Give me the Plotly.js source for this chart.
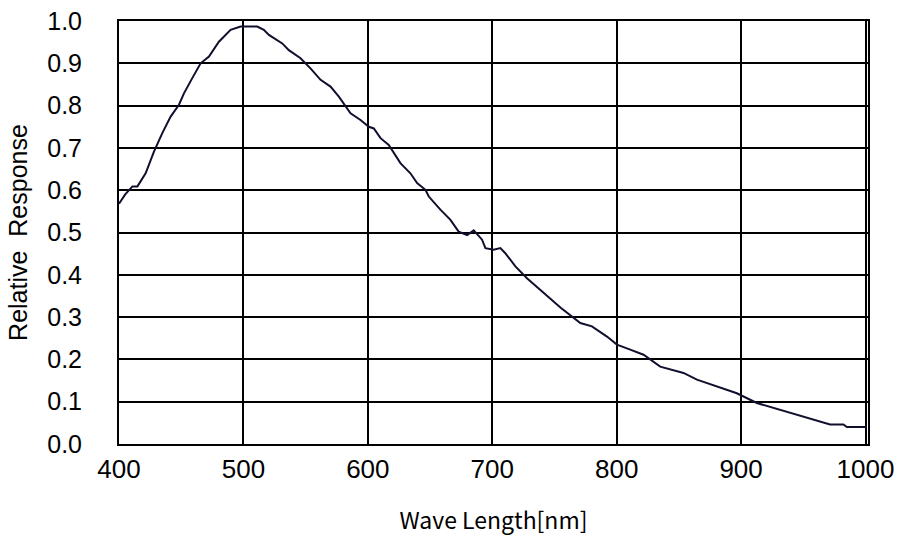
<!DOCTYPE html>
<html>
<head>
<meta charset="utf-8">
<script src="https://cdn.plot.ly/plotly-3.0.1.min.js"></script>
<style>html,body{margin:0;padding:0;background:#fff;}#chart{width:900px;height:544px;}</style>
</head>
<body>
<div id="chart"></div>
<script>
const wavelength = [400, 405, 410.8, 414.8, 421.4, 428.1, 434.8, 441.5, 448.2, 452.2, 458.9, 465.6, 472.3, 480.3, 489.7, 497.7, 511.1, 516.4, 520.5, 531.2, 536.5, 545.9, 553.9, 562.0, 570.0, 576.7, 586.1, 594.1, 600.8, 604.8, 610.2, 616.8, 626.2, 634.2, 639.6, 646.3, 649.0, 658.3, 666.4, 673.0, 679.8, 685.1, 691.8, 694.5, 701.1, 706.5, 710.5, 718.6, 727.9, 740, 755, 770.8, 780.1, 792.2, 800.2, 810.9, 821.6, 835.0, 853.7, 864.5, 880.5, 896.6, 912.6, 931.4, 952.8, 971.5, 982.2, 985.0, 1001];
const response = [0.568, 0.59, 0.609, 0.609, 0.640, 0.691, 0.735, 0.774, 0.802, 0.829, 0.865, 0.900, 0.916, 0.951, 0.979, 0.987, 0.987, 0.979, 0.967, 0.947, 0.931, 0.912, 0.888, 0.861, 0.845, 0.821, 0.782, 0.766, 0.750, 0.746, 0.723, 0.707, 0.664, 0.640, 0.617, 0.601, 0.585, 0.554, 0.530, 0.502, 0.494, 0.505, 0.483, 0.463, 0.459, 0.463, 0.451, 0.420, 0.392, 0.360, 0.322, 0.286, 0.278, 0.254, 0.235, 0.223, 0.211, 0.183, 0.168, 0.152, 0.136, 0.120, 0.097, 0.081, 0.061, 0.046, 0.046, 0.040, 0.040];
const xTicks = [400, 500, 600, 700, 800, 900, 1000];
const yTicks = [0, 0.1, 0.2, 0.3, 0.4, 0.5, 0.6, 0.7, 0.8, 0.9, 1.0];
const yTickText = yTicks.map(v => v.toFixed(1));

Plotly.newPlot('chart', [{
  x: wavelength, y: response, type: 'scatter', mode: 'lines',
  line: {color: '#10102e', width: 2}, hoverinfo: 'skip'
}], {
  width: 900, height: 544,
  margin: {l: 119, r: 32, t: 21, b: 100},
  paper_bgcolor: '#fff', plot_bgcolor: '#fff',
  showlegend: false,
  xaxis: {
    range: [400, 1002], tickmode: 'array', tickvals: xTicks, ticktext: xTicks.map(String),
    showgrid: true, gridcolor: '#000', gridwidth: 2, zeroline: false,
    showline: true, linecolor: '#000', linewidth: 2, mirror: true,
    ticks: 'outside', ticklen: 1, tickcolor: 'rgba(0,0,0,0)',
    tickfont: {family: 'Liberation Sans Narrow, Arial Narrow, sans-serif', size: 26, color: '#000'},
    title: {text: 'Wave Length[nm]', standoff: 30, font: {family: 'Noto Sans CJK JP, sans-serif', size: 23, color: '#000'}}
  },
  yaxis: {
    range: [0, 1.0], tickmode: 'array', tickvals: yTicks, ticktext: yTickText,
    showgrid: true, gridcolor: '#000', gridwidth: 2, zeroline: false,
    showline: true, linecolor: '#000', linewidth: 2, mirror: true,
    ticks: 'outside', ticklen: 30, tickcolor: 'rgba(0,0,0,0)',
    tickfont: {family: 'Liberation Sans, Arial, sans-serif', size: 25, color: '#000'},
    title: {text: 'Relative  Response', standoff: 12, font: {family: 'Liberation Sans, Arial, sans-serif', size: 25, color: '#000'}}
  }
}, {displayModeBar: false, staticPlot: true});
</script>
</body>
</html>
